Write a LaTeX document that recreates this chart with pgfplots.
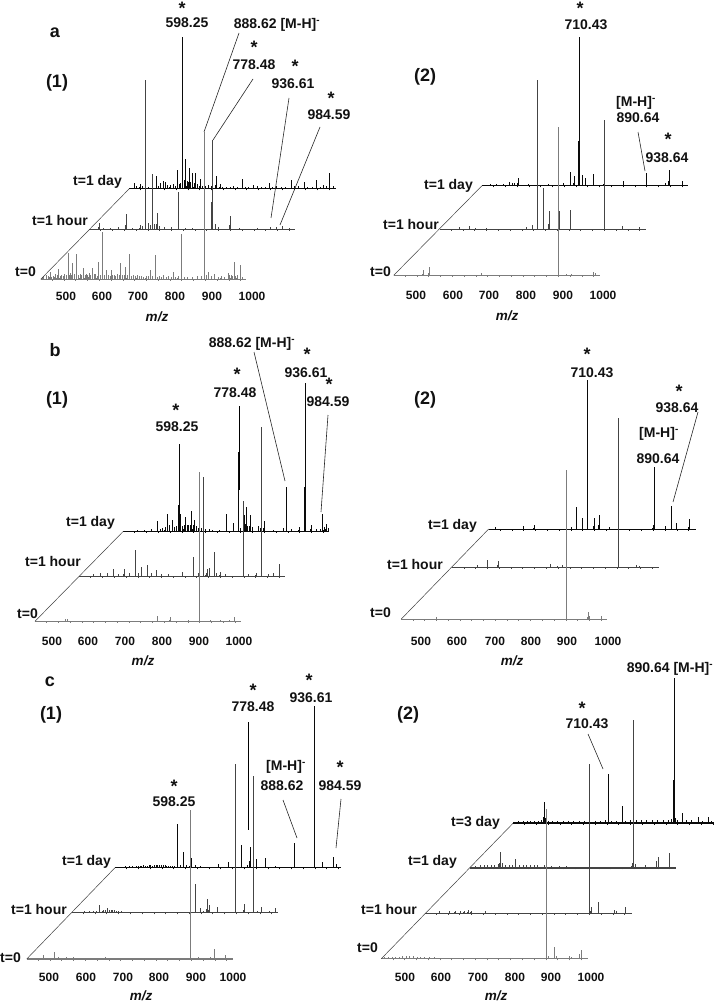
\documentclass[border=0pt]{standalone}
\usepackage{pgfplots}
\pgfplotsset{compat=1.18}
\usepackage{fontspec}
\setmainfont{Liberation Sans}
\definecolor{cday}{HTML}{0A0A0A}
\definecolor{chour}{HTML}{444444}
\definecolor{czero}{HTML}{7C7C7C}
\definecolor{cink}{HTML}{111111}
% #1 x of start (px), #2 baseline y (px), #3 length (px), #4 colour, #5 baseline width, #6 peaks (m/z, height)
\newcommand{\spec}[6]{%
\begin{axis}[scale only axis,width=#3pt,height=100pt,at={(#1pt,{(1003-#2)*1pt})},anchor=south west,
 xmin=430,xmax={430+2.802*#3},ymin=0,ymax=100,clip=false,
 axis x line=bottom,axis y line=none,axis line style={-,draw=#4,line width=#5pt},
 xtick distance=33,xticklabels={},tick align=outside,major tick length=1.6pt,
 tick style={draw=#4,line width=.45pt},scaled x ticks=false]
\addplot[ycomb,draw=#4,line width=.75pt] coordinates {#6};
\addplot[ycomb,draw=#4,line width=1.25pt,y filter/.expression={0.3*y}] coordinates {#6};
\end{axis}}
\newcommand{\lab}[3]{\node[font=\bfseries\fontsize{14}{14}\selectfont,text=cink,inner sep=0pt] at (axis cs:#1,#2) {#3};}
\newcommand{\rlab}[3]{\node[font=\bfseries\fontsize{14}{14}\selectfont,text=cink,inner sep=0pt,anchor=east] at (axis cs:#1,#2) {#3};}
\newcommand{\blab}[3]{\node[font=\bfseries\fontsize{18}{18}\selectfont,text=cink,inner sep=0pt] at (axis cs:#1,#2) {#3};}
\newcommand{\ticks}[7]{%
 \node[font=\bfseries\fontsize{12}{12}\selectfont,text=cink,inner sep=0pt] at (axis cs:#2,#1) {500};
 \node[font=\bfseries\fontsize{12}{12}\selectfont,text=cink,inner sep=0pt] at (axis cs:#3,#1) {600};
 \node[font=\bfseries\fontsize{12}{12}\selectfont,text=cink,inner sep=0pt] at (axis cs:#4,#1) {700};
 \node[font=\bfseries\fontsize{12}{12}\selectfont,text=cink,inner sep=0pt] at (axis cs:#5,#1) {800};
 \node[font=\bfseries\fontsize{12}{12}\selectfont,text=cink,inner sep=0pt] at (axis cs:#6,#1) {900};
 \node[font=\bfseries\fontsize{12}{12}\selectfont,text=cink,inner sep=0pt] at (axis cs:#7,#1) {1000};}
\newcommand{\mz}[2]{\node[font=\bfseries\itshape\fontsize{13.5}{13.5}\selectfont,text=cink,inner sep=0pt] at (axis cs:#1,#2) {m/z};}
\newcommand{\lead}[4]{\addplot[draw=black!85,line width=.6pt] coordinates {(#1,#2) (#3,#4)};}
\newcommand{\leadk}[4]{\addplot[draw=black,line width=1.2pt] coordinates {(#1,#2) (#3,#4)};}
\newcommand{\diag}[4]{\addplot[draw=black!75,line width=.5pt] coordinates {(#1,#2) (#3,#4)};}
\begin{document}
\begin{tikzpicture}
\useasboundingbox (0,0) rectangle (716pt,1003pt);
% ---------- a(1)
\spec{129.3}{188.7}{207}{cday}{1.2}{(444,5.7)(450,3)(460,4.3)(466,3)(476,3.7)(484,2)(507,13)(512,3)(518,5.3)(525,8)(532,6.3)(538,4)(544,4)(553,5)(558,3)(564,19)(570,5)(574,6)(580,152)(584,9)(588,30)(592,8)(597,21)(602,7)(607,16)(611,6)(616,15.3)(621,5)(628,10)(635,3)(642,3)(651,4)(660,3)(673,12.7)(684,4.7)(692,2)(702,2)(712,2)(721,3)(733,2)(747,9.3)(755,2)(765,2)(777,4)(790,2.5)(800,2)(810,2)(822,5.3)(830,2)(843,3)(855,2)(868,2)(885,8.7)(893,2.5)(904,3)(920,6.3)(930,2)(942,2)(955,8.7)(965,2)(974,4)(982,3)(990,15.7)(1002,2.7)}
\spec{89.3}{229.3}{206}{chour}{.7}{(457,6)(470,1.5)(490,1.5)(511,2)(533,15)(550,1.5)(572,4.3)(580,3)(588,149.3)(595,6)(601,4)(607,55.3)(613,5)(620,16.7)(626,3)(640,2)(660,2)(679,37)(700,1.5)(720,1.5)(774,89.3)(784,5)(793,2.7)(824,13.3)(850,1.5)(900,1.5)(938,2)(955,2)(972,3.3)(990,1.5)}
\spec{40.7}{279.3}{205.5}{czero}{1.3}{(435,2)(438,3)(447,4)(452,3)(456,7.7)(461,2)(465,3)(469,2)(472,5)(476,4)(480,10)(484,3)(489,4)(493,3)(497,5)(502,4)(507,26)(510,4)(513,6)(517,4)(520,16)(525,5)(531,25)(535,4)(540,5)(545,4)(550,11)(554,4)(558,5)(562,4)(565,6)(570,4)(576,11)(580,5)(583,5)(588,3)(592,17.7)(597,4)(604,47)(609,4)(615,9.3)(620,4)(627,9.3)(631,4)(636,4)(640,3)(645,5)(650,4)(654,16)(660,4)(666,12.7)(672,4)(678,25)(684,3)(690,4)(695,3)(700,4)(706,3)(712,3)(718,2)(725,3)(731,3)(738,9.3)(744,3)(751,24.3)(757,2)(762,3)(768,2)(774,4.3)(781,2)(788,3)(795,2)(802,7.7)(808,2)(815,3)(825,45)(833,2)(840,2)(855,2)(870,3)(880,3)(888,147.7)(894,4)(900,7.7)(909,3)(918,5.3)(927,2)(935,3)(945,2)(956,6)(960,4)(963,4)(967,3)(972,17)(976,3)(980,4)(989,14.3)(996,2)}
% ---------- a(2)
\spec{482}{185.7}{206}{cday}{1}{(453,2)(470,1.5)(490,1.5)(508,3.3)(515,3)(522,3)(531,8)(560,1.5)(615,2)(657,3)(678,13.7)(688,10)(702,149)(711,10.3)(720,8)(742,11.7)(770,1.5)(827,4.7)(891,12.7)(944,2.3)(954,15.3)(991,4.3)}
\spec{439.7}{229.3}{206}{chour}{.7}{(486,2)(514,3)(530,1.5)(560,1.5)(673,2.7)(689,4)(704,149.3)(721,41)(736,18.3)(765,18.7)(797,19)(892,109.3)(942,3.3)(990,2)}
\spec{393.7}{275.3}{206}{czero}{.7}{(512,5.3)(529,8)(676,2)(891,148.7)(914,1.3)(928,1.3)(989,3.7)(994,2)}
% ---------- b(1)
\spec{123.3}{531.3}{205.5}{cday}{1.1}{(470,1.5)(490,1.5)(510,2)(525,10)(533,2)(540,3)(547,4)(554,17)(560,6)(567,11.3)(574,4)(580,5)(586,87)(590,17)(596,5)(600,6)(605,14.7)(609,6)(612,6)(620,20.7)(625,6)(630,11)(635,5)(640,3)(650,3)(660,2)(670,2)(680,1.5)(700,1.5)(720,17)(738,8)(752,79.7)(758,3)(768,16.3)(774,24)(779,5)(785,16.3)(792,4)(808,5)(815,3)(824,10.7)(850,1.5)(878,3)(888,44.7)(900,2)(922,4.7)(939,148.7)(956,6.3)(970,2)(982,2)(988,17)(992,4)(998,7.3)(1004,3)}
\spec{79.3}{576}{206}{chour}{.8}{(470,2)(490,2.5)(510,3)(525,6.7)(540,2)(555,6.7)(570,3)(587,26)(595,3)(605,9.3)(621,10.7)(632,3)(647,6)(660,2)(680,2)(720,4.3)(750,19.3)(764,3)(777,98.7)(785,3)(790,7.3)(795,8)(809,24)(815,3)(824,4.3)(840,2)(890,74.7)(905,2)(925,3)(940,149.3)(960,2)(975,3)(990,12)}
\spec{35}{621.3}{206}{czero}{.8}{(514,2)(520,2)(773,5.3)(808,4)(860,1.5)(890,149)(920,1.5)(950,1.5)(975,1.5)(990,4)}
% ---------- b(2)
\spec{488.7}{529}{207}{cday}{.8}{(450,1.7)(528,2.7)(557,4)(662,2.3)(676,21.7)(693,10.7)(706,149)(725,10.7)(739,14)(768,2.3)(890,4)(894,62.3)(926,3)(943,23.3)(957,5.7)(990,2)(993,10)}
\spec{452.3}{567.3}{207}{chour}{.7}{(500,2)(529,7.3)(558,6.3)(706,3.3)(725,1.7)(738,2)(895,149)(945,2)(955,1.3)}
\spec{401.3}{619}{206}{czero}{.7}{(528,1.7)(893,149)(953,7.3)(958,2.5)(990,3)}
% ---------- c(1)
\spec{115}{867.7}{226}{cday}{1.3}{(460,1.5)(470,1.5)(480,1.5)(490,2)(495,2)(500,2)(505,2)(510,2.5)(515,2)(520,2)(525,2.5)(530,2.5)(535,2)(540,2.5)(545,2.5)(550,2.5)(555,2.5)(560,2.5)(565,2.5)(570,2.5)(575,2)(580,2)(585,2)(590,2)(595,2)(605,44)(612,3)(622,15.3)(630,3)(640,4)(645,10)(655,3)(670,2)(721,3.3)(749,6)(784,22.3)(800,3)(808,21)(827,8.7)(851,9.3)(880,1.5)(933,24.3)(989,162)(1012,6)(1042,11)(1051,3.7)}
\spec{71.7}{912.7}{206}{chour}{1}{(465,2)(480,2)(490,2)(500,2)(508,7.7)(515,2)(520,2.5)(525,2.5)(530,4.3)(535,2.5)(540,2.5)(545,2.5)(550,2.5)(555,2)(560,2)(570,1.5)(777,28.3)(790,4.3)(800,2)(809,13.3)(815,7.7)(838,5.3)(890,148.7)(913,8.7)(940,136.7)(950,2)(962,5.3)(985,2)(1002,4.3)}
\spec{26.7}{959}{206}{czero}{1.2}{(477,4)(508,6.7)(520,1.5)(540,1.5)(560,1.5)(650,1.5)(888,149)(912,1.7)(945,1.7)(957,10)(988,4)}
% ---------- c(2)
\spec{513}{823.3}{201}{cday}{1.6}{(445,2)(460,2)(470,2)(480,2)(490,2.5)(500,2)(510,3)(517,21.7)(521,5)(530,2.5)(540,2.5)(555,2.5)(570,2)(585,2.5)(600,2.5)(615,2.5)(630,2)(645,2)(660,2.5)(675,2.5)(690,3)(697,49.3)(705,2.5)(720,2.5)(736,17)(745,2.5)(760,3)(775,3)(790,3)(805,3)(820,3)(835,3)(850,3)(865,3)(875,4)(881,145)(885,5)(890,3)(904,10)(915,3)(930,3)(950,6.7)(960,2.5)(978,6)(985,2)}
\spec{469.7}{867.7}{206}{chour}{1.8}{(445,2)(460,2.5)(470,2.5)(480,2.5)(490,3)(500,3)(510,4)(514,5)(517,15.7)(521,5)(530,3)(540,3)(550,3)(559,8.7)(570,3)(580,3)(590,3)(600,3)(610,2.5)(620,2.5)(640,2.5)(660,2)(680,2)(700,2)(885,5)(889,147.7)(895,4)(923,3)(953,6.7)(960,10.7)(989,14.3)}
\spec{424.7}{913}{207}{chour}{.9}{(470,1.5)(500,1.7)(515,2)(530,2)(540,2)(551,3)(560,2)(600,1.5)(892,148.7)(896,6)(916,10.7)(962,3)(966,1.5)(993,5.7)}
\spec{381.3}{958.7}{207}{czero}{1.4}{(440,2)(450,2)(460,2)(470,2)(480,2)(490,2.5)(500,2.5)(510,3)(520,2.5)(530,2)(540,2)(550,2)(565,1.5)(580,1.5)(892,149.7)(897,3)(915,12)(920,3)(956,3)(962,2)(986,5)(990,8.7)}
% ---------- overlay in picture units: text, leaders, diagonals
\begin{axis}[scale only axis,width=716pt,height=1003pt,at={(0pt,0pt)},anchor=south west,xmin=0,xmax=716,ymin=0,ymax=1003,y dir=reverse,hide axis,clip=false]
% a1
\blab{55}{33}{a}\blab{57}{83}{(1)}
\blab{182}{8}{*}\lab{187}{23}{598.25}\lab{277}{25}{888.62 [M-H]\textsuperscript{-}}
\blab{254}{47}{*}\lab{254}{65}{778.48}\blab{295}{66}{*}\lab{293}{84}{936.61}\blab{331}{98}{*}\lab{329}{115}{984.59}
\rlab{122}{182}{t=1 day}\rlab{88}{220}{t=1 hour}\rlab{36}{272}{t=0}
\ticks{296}{66}{102}{138}{175}{212}{252}\mz{157}{317}
\lead{239}{33}{204}{132}\lead{253}{79}{213}{140}\lead{289}{98}{271}{218}\lead{320}{127}{280}{225}
\diag{129.3}{188.7}{40.7}{279.3}
% a2
\blab{425}{77}{(2)}\blab{580}{8}{*}\lab{586}{25}{710.43}
\lab{636}{103}{[M-H]\textsuperscript{-}}\lab{638}{118}{890.64}\blab{668}{139}{*}\lab{667}{158}{938.64}
\rlab{473}{186}{t=1 day}\rlab{439}{224}{t=1 hour}\rlab{391}{272}{t=0}
\ticks{295}{416}{453}{489}{526}{563}{603}\mz{507}{316}
\lead{638}{132}{645}{171}
\diag{482}{185.7}{393.7}{275.3}
% b1
\blab{55}{350}{b}\blab{57}{400}{(1)}
\lab{252}{344}{888.62 [M-H]\textsuperscript{-}}\blab{307}{354}{*}\blab{237}{374}{*}\lab{306}{373}{936.61}\blab{329}{384}{*}
\lab{235}{393}{778.48}\lab{328}{402}{984.59}\blab{176}{410}{*}\lab{177}{427}{598.25}
\rlab{115}{523}{t=1 day}\rlab{81}{561}{t=1 hour}\rlab{38}{614}{t=0}
\ticks{641}{52}{88}{125}{162}{199}{239}\mz{143}{661}
\lead{254}{352}{285}{481}\lead{328}{415}{321}{512}\leadk{239.7}{406}{239.7}{490}
\diag{123.3}{531.3}{35}{621.3}
% b2
\blab{425}{400}{(2)}\blab{587}{354}{*}\lab{592}{373}{710.43}\blab{679}{391}{*}\lab{677}{408}{938.64}
\lab{659}{434}{[M-H]\textsuperscript{-}}\lab{658}{459}{890.64}
\rlab{477}{526}{t=1 day}\rlab{443}{564}{t=1 hour}\rlab{391}{613}{t=0}
\ticks{641}{421}{457}{495}{531}{567}{608}\mz{512}{661}
\lead{698}{412}{673}{502}
\diag{488.7}{529}{401.3}{619}
% c1
\blab{50}{682}{c}\blab{51}{715}{(1)}
\blab{309}{680}{*}\lab{311}{698}{936.61}\blab{253}{690}{*}\lab{253}{707}{778.48}
\lab{286}{767}{[M-H]\textsuperscript{-}}\blab{340}{767}{*}\lab{282}{786}{888.62}\lab{340}{786}{984.59}
\blab{174}{786}{*}\lab{174}{802}{598.25}
\rlab{111}{862}{t=1 day}\rlab{67}{909}{t=1 hour}\rlab{21}{958}{t=0}
\ticks{977}{49}{86}{123}{159}{196}{233}\mz{141}{996}
\leadk{248.3}{722}{248.3}{830}\lead{283}{800}{297}{838}\lead{341}{799}{336}{848}
\diag{115}{867.7}{26.7}{959}
% c2
\blab{408}{715}{(2)}\lab{670}{669}{890.64 [M-H]\textsuperscript{-}}\blab{582}{708}{*}\lab{587}{724}{710.43}
\rlab{500}{823}{t=3 day}\rlab{457}{862}{t=1 day}\rlab{417}{909}{t=1 hour}\rlab{378}{948}{t=0}
\ticks{977}{405}{441}{478}{515}{551}{591}\mz{496}{996}
\lead{588}{734}{603}{769}
\diag{513}{823.3}{381.3}{958.7}
\end{axis}
\end{tikzpicture}
\end{document}
